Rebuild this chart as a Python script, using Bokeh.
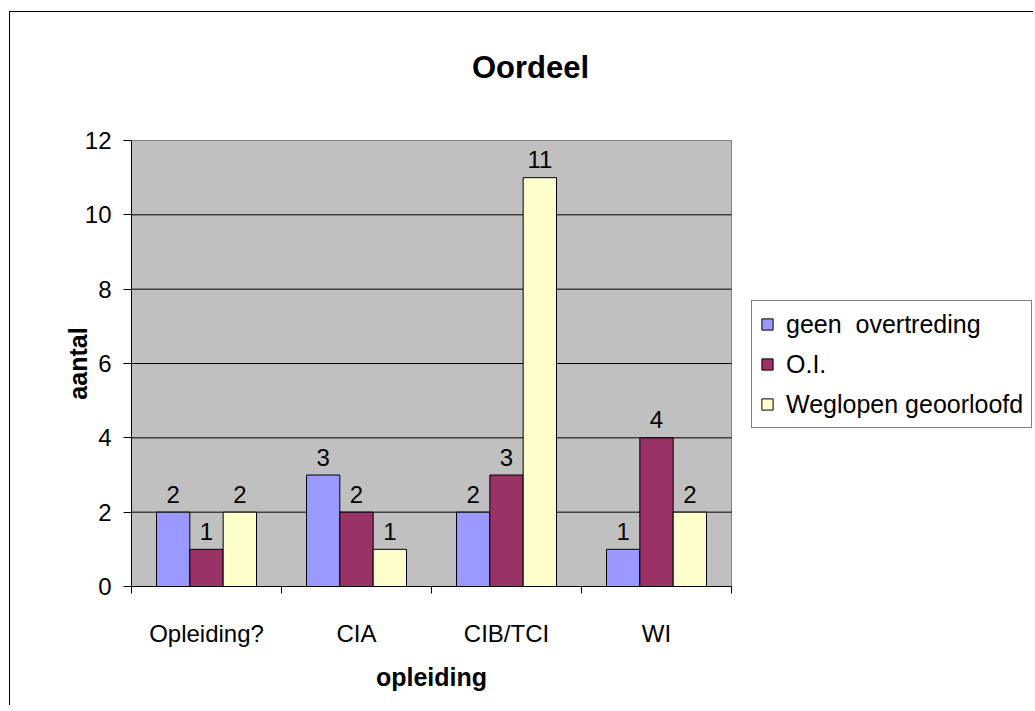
import math
from bokeh.plotting import figure
from bokeh.models import (ColumnDataSource, Range1d, FixedTicker, Legend, LegendItem, Label,
                          LinearAxis)
from bokeh.core.properties import value
from bokeh.transform import dodge
from bokeh.embed import file_html
from bokeh.resources import INLINE

categories = ["Opleiding?", "CIA", "CIB/TCI", "WI"]
series_names = ["geen  overtreding", "O.I.", "Weglopen geoorloofd"]
geen_overtreding = [2, 3, 2, 1]
oi = [1, 2, 3, 4]
weglopen = [2, 1, 11, 2]
colors = ["#9999FF", "#993366", "#FFFFCC"]
y_ticks = [0, 2, 4, 6, 8, 10, 12]

FONT = "Liberation Sans"

# ---- layout (pixels, canvas) ----
W, H = 1024, 694
LEFT, BOTTOM = 121, 120          # grey plot area: left edge / distance of its bottom from canvas bottom
PLOT_W, PLOT_H = 600, 446        # grey plot area size
n = len(categories)
y_max = y_ticks[-1]
px_x = PLOT_W / n                # pixels per category
px_y = PLOT_H / y_max            # pixels per unit
x_start, x_end = -LEFT / px_x, (W - LEFT) / px_x
y_start, y_end = -BOTTOM / px_y, (H - BOTTOM) / px_y

centers = [i + 0.5 for i in range(n)]
bounds = [float(i) for i in range(n + 1)]

src = ColumnDataSource(dict(x=centers, geen=geen_overtreding, oi=oi, weg=weglopen,
                            geen_t=[str(v) for v in geen_overtreding],
                            oi_t=[str(v) for v in oi],
                            weg_t=[str(v) for v in weglopen]))

p = figure(width=W, height=H, output_backend="svg", toolbar_location=None,
           x_range=Range1d(x_start, x_end), y_range=Range1d(y_start, y_end),
           x_axis_location=None, y_axis_location=None,
           min_border_left=0, min_border_right=0, min_border_top=0, min_border_bottom=0,
           margin=(11, 0, 0, 9),
           styles={"border-left": "1px solid black", "border-top": "1px solid black"})

p.background_fill_color = "white"
p.border_fill_color = "white"
p.outline_line_color = None
p.grid.visible = False

# grey plot area spanning the categories and the value axis
p.quad(left=[0], right=[n], bottom=[0], top=[y_max],
       fill_color="#C0C0C0", line_color="#808080", line_width=1)
# horizontal gridlines at the inner ticks
inner = y_ticks[1:-1]
p.segment(x0=[0] * len(inner), x1=[n] * len(inner), y0=inner, y1=inner,
          line_color="black", line_width=1)

bw = 1 / 4.5
cols = ["geen", "oi", "weg"]
offsets = [-bw, 0.0, bw]
renderers = []
for c, off, col in zip(cols, offsets, colors):
    r = p.vbar(x=dodge("x", off, range=p.x_range), top=c, width=bw, source=src,
               fill_color=col, line_color="black", line_width=1)
    renderers.append(r)
    p.text(x=dodge("x", off, range=p.x_range), y=c, text=c + "_t", source=src,
           text_align="center", text_baseline="alphabetic", y_offset=-18,
           text_font=value(FONT), text_font_size="24px", text_color="black")

# x axis (fixed at y = 0)
xa = LinearAxis(fixed_location=0, bounds=(0, n))
xa.ticker = FixedTicker(ticks=centers, minor_ticks=bounds)
xa.major_label_overrides = {c: lab for c, lab in zip(centers, categories)}
xa.major_tick_out = 0
xa.major_tick_in = 0
xa.minor_tick_out = 7
xa.minor_tick_in = 0
xa.minor_tick_line_color = "black"
xa.axis_line_color = "black"
xa.major_label_text_font = FONT
xa.major_label_text_font_size = "24px"
xa.major_label_text_color = "black"
xa.major_label_standoff = 26
p.add_layout(xa, "below")

# y axis (fixed at x = 0)
ya = LinearAxis(fixed_location=0, bounds=(0, y_max))
ya.ticker = FixedTicker(ticks=y_ticks)
ya.major_tick_out = 8
ya.major_tick_in = 0
ya.major_tick_line_color = "black"
ya.minor_tick_out = 0
ya.minor_tick_in = 0
ya.axis_line_color = "black"
ya.major_label_text_font = FONT
ya.major_label_text_font_size = "24px"
ya.major_label_text_color = "black"
ya.major_label_standoff = 12
p.add_layout(ya, "left")

# axis titles
xlabel = Label(x=n / 2, y=-90 / px_y, text="opleiding",
               text_align="center", text_baseline="alphabetic",
               text_font=FONT, text_font_size="25px", text_font_style="bold",
               text_color="black")
p.add_layout(xlabel)

ylabel = Label(x=-54 / px_x, y=y_max / 2, text="aantal", angle=math.pi / 2,
               text_align="center", text_baseline="alphabetic",
               text_font=FONT, text_font_size="25px", text_font_style="bold",
               text_color="black")
p.add_layout(ylabel)

# title (centre of chart area, near the top)
title = Label(x=(520 - LEFT) / px_x, y=(H - BOTTOM - 55) / px_y,
              text="Oordeel", text_align="center", text_baseline="alphabetic",
              text_font=FONT, text_font_size="31px", text_font_style="bold",
              text_color="black")
p.add_layout(title)

legend = Legend(items=[LegendItem(label=nm, renderers=[r]) for nm, r in zip(series_names, renderers)],
                location=(LEFT + 620, BOTTOM + 158), orientation="vertical",
                label_text_font=FONT, label_text_font_size="25px", label_text_color="black",
                glyph_width=14, glyph_height=14, label_height=30, label_standoff=12,
                spacing=10, padding=8, margin=0,
                border_line_color="black", border_line_width=1,
                background_fill_color="white", background_fill_alpha=1.0)
p.add_layout(legend, "center")

open("out.html", "w").write(file_html(p, INLINE))
